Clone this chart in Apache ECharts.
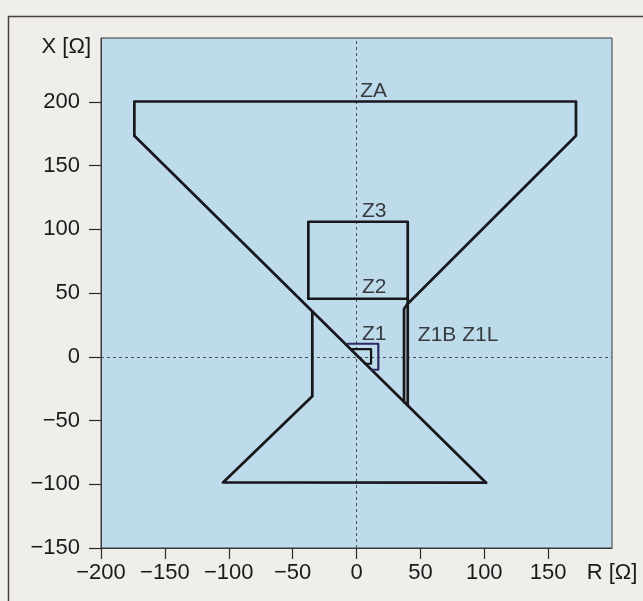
<!DOCTYPE html>
<html>
<head>
<meta charset="utf-8">
<script src="https://cdn.jsdelivr.net/npm/echarts@6/dist/echarts.min.js"></script>
<style>
html,body{margin:0;padding:0;background:#efeeeb;}
#c{width:643px;height:601px;}
</style>
</head>
<body>
<div id="c"></div>
<script>
// Tick values
const xTickValues = [-200, -150, -100, -50, 0, 50, 100, 150];
const xLabelValues = [-200, -150, -100, -50, 0, 50, 100, 150, 200];
const yTickValues = [-150, -100, -50, 0, 50, 100, 150, 200];
const xAxisTitle = 'R [Ω]';
const yAxisTitle = 'X [Ω]';

// Zone boundaries (R, X) in ohms
const zaOuter = [[-173.9, 173.3], [-173.9, 200.2], [171.8, 200.2], [171.8, 173.3], [40.1, 41.6]];
const z1lSide = [[40.1, 41.6], [37.2, 37.6], [37.2, -35.6]];
const mainDiagonal = [[-173.9, 173.3], [101.4, -98.8]];
const lowerZone = [[-34.6, 35.6], [-34.6, -31], [-104.5, -98.6], [101.4, -98.8]];
const z3Box = [[-37.7, 45.5], [-37.7, 105.9], [40.1, 105.9], [40.1, 45.5]];
const z2Line = [[-37.7, 45.5], [40.1, 45.5]];
const z1bSide = [[40.1, 45.5], [40.1, -38.3]];
const z1Outer = [[-7, 10.2], [17.1, 10.2], [17.1, -10.2], [11.8, -10.2]];
const z1Inner = [[-4.6, 6.0], [11.4, 6.0], [11.4, -5.5], [7.0, -5.5]];

// Zone labels [R, X, text]
const zoneLabels = [
  [2.9, 208, 'ZA'],
  [4.3, 114, 'Z3'],
  [4.3, 54.5, 'Z2'],
  [4.3, 18, 'Z1'],
  [48, 16.9, 'Z1B Z1L']
];

const fmt = v => (v < 0 ? '\u2212' + (-v) : String(v));
const lineCol = '#17171c';
const font = 'Liberation Sans, Arial, sans-serif';
function poly(data, color, width) {
  return {
    type: 'line', data: data, showSymbol: false, symbol: 'none',
    lineStyle: { color: color || lineCol, width: width || 2.7, cap: 'round', join: 'round' },
    silent: true, animation: false, z: 5
  };
}

const chart = echarts.init(document.getElementById('c'), null, { renderer: 'canvas' });
chart.setOption({
  animation: false,
  backgroundColor: '#efeeeb',
  grid: { left: 101, right: 31, top: 38, bottom: 53, show: true, backgroundColor: '#bddbea', borderColor: '#3a3a3a', borderWidth: 1 },
  xAxis: {
    type: 'value', min: -200, max: 200, interval: 50,
    axisLine: { show: true, onZero: false, lineStyle: { color: '#3a3a3a', width: 1 } },
    axisTick: { show: true, length: 11, customValues: xTickValues, lineStyle: { color: '#2a2a2a', width: 1.2 } },
    axisLabel: {
      customValues: xLabelValues, margin: 14, fontSize: 22, color: '#1a1a1a', fontFamily: font,
      formatter: v => (v === 200 ? xAxisTitle : fmt(v))
    },
    splitLine: { show: false }
  },
  yAxis: {
    type: 'value', min: -150, max: 250, interval: 50,
    axisLine: { show: true, onZero: false, lineStyle: { color: '#3a3a3a', width: 1 } },
    axisTick: { show: true, length: 12, customValues: yTickValues, lineStyle: { color: '#2a2a2a', width: 1.2 } },
    axisLabel: {
      customValues: yTickValues, margin: 21, fontSize: 22, color: '#1a1a1a', fontFamily: font,
      formatter: fmt
    },
    splitLine: { show: false }
  },
  graphic: [
    { type: 'rect', left: 6, top: 14, z: -1, silent: true,
      shape: { width: 660, height: 620 }, style: { fill: 'none', stroke: '#4d4038', lineWidth: 1.5 } },
    { type: 'text', right: 643 - 91, top: 36, silent: true,
      style: { text: yAxisTitle, fontSize: 22, fill: '#1a1a1a', fontFamily: font, align: 'right' } }
  ],
  series: [
    {
      type: 'line', data: [], silent: true, animation: false,
      markLine: {
        silent: true, symbol: ['none', 'none'], animation: false,
        label: { show: false },
        lineStyle: { color: '#4a4a55', type: [3, 3], width: 1 },
        data: [{ xAxis: 0 }, { yAxis: 0 }]
      }
    },
    poly(zaOuter),
    poly(z1lSide),
    poly(mainDiagonal),
    poly(lowerZone),
    poly(z3Box),
    poly(z2Line),
    poly(z1bSide),
    poly(z1Outer, '#2e2a66', 2.2),
    poly(z1Inner, '#151515', 2.2),
    {
      type: 'scatter', data: zoneLabels, symbolSize: 0, silent: true, animation: false, z: 6,
      label: {
        show: true, position: [0, 0], align: 'left', verticalAlign: 'middle',
        fontSize: 21, color: '#111111', fontFamily: font,
        formatter: p => p.data[2]
      }
    }
  ]
});
</script>
</body>
</html>
